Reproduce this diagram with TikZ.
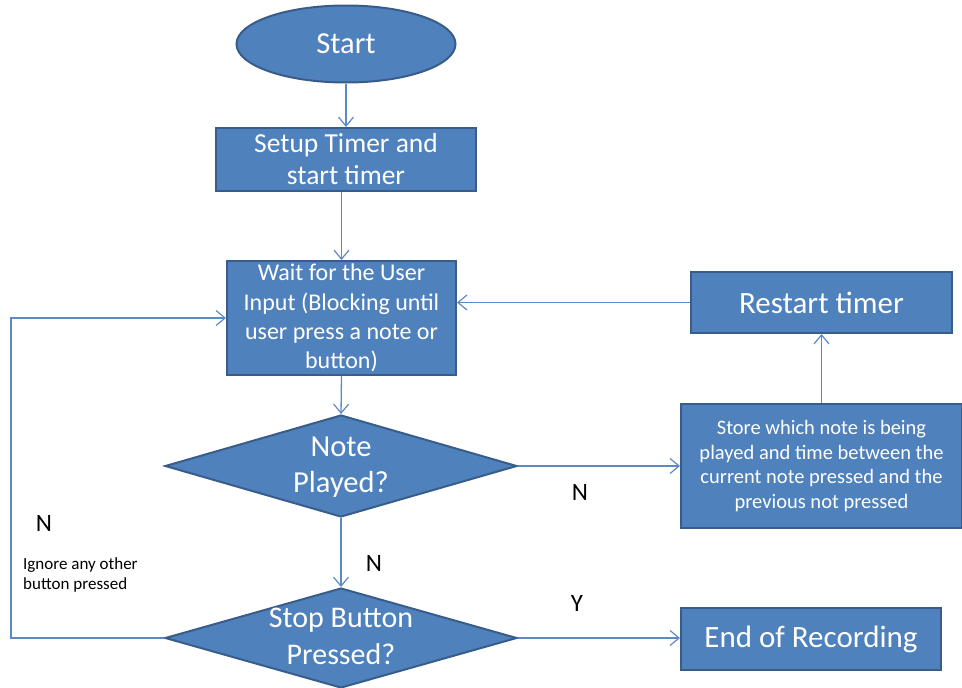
\documentclass[tikz,border=0pt]{standalone}
\usepackage{fontspec}
\setmainfont{Carlito}
\usetikzlibrary{shapes.geometric,arrows.meta}
\definecolor{boxfill}{HTML}{4F81BD}
\definecolor{boxline}{HTML}{385D8A}
\definecolor{linkcol}{HTML}{5B8AC6}
\newcommand{\dtext}[1]{\makebox[0pt]{\smash{\raisebox{-0.5ex}{\begin{tabular}{@{}c@{}}#1\end{tabular}}}}}
\tikzset{
  blk/.style={draw=boxline, line width=2pt, fill=boxfill, text=white, align=center, inner sep=0pt},
  procbox/.style={blk, rectangle},
  termbox/.style={blk, ellipse},
  decbox/.style={blk, diamond},
  link/.style={draw=linkcol, line width=1.3pt, -{Straight Barb[length=9pt,width=15pt,line width=1.2pt]}},
  tag/.style={text=black, inner sep=0pt, font=\fontsize{25}{30}\selectfont},
}
\begin{document}
\begin{tikzpicture}[x=1pt,y=-1pt]
\useasboundingbox (0,0) rectangle (962,688);

\node[termbox, minimum width=219pt, minimum height=77pt, font=\fontsize{30.5}{36}\selectfont]
  (start) at (346,44) {Start};
\node[procbox, minimum width=260pt, minimum height=63pt, font=\fontsize{27.5}{32}\selectfont]
  (setup) at (346,159.5) {Setup Timer and\\start timer};
\node[procbox, minimum width=229pt, minimum height=114pt, font=\fontsize{24}{29.3}\selectfont]
  (wait) at (341.5,318) {Wait for the User\\Input (Blocking until\\user press a note or\\button)};
\node[decbox, minimum width=352pt, minimum height=102pt, font=\fontsize{30.5}{36}\selectfont]
  (note) at (341,466) {\dtext{Note\\Played?}};
\node[decbox, minimum width=352pt, minimum height=100pt, font=\fontsize{30}{37}\selectfont]
  (stop) at (341,638) {\dtext{Stop Button\\Pressed?}};
\node[procbox, minimum width=261pt, minimum height=61pt, font=\fontsize{31}{36}\selectfont]
  (restart) at (821.5,302.5) {Restart timer};
\node[procbox, minimum width=281pt, minimum height=124pt, font=\fontsize{20.5}{24.7}\selectfont]
  (store) at (821.5,466) {Store which note is being\\played and time between the\\current note pressed and the\\previous not pressed};
\node[procbox, minimum width=260pt, minimum height=62pt, font=\fontsize{31}{36}\selectfont]
  (finish) at (811,639) {End of Recording};

% corners of the return path on the left
\coordinate (loopB) at (11,638);
\coordinate (loopT) at (11,318);

\draw[link] (start.south) -- (setup.north);
\draw[link] (wait.north |- setup.south) -- (wait.north);
\draw[link] (wait.south) -- (note.north);
\draw[link] (note.south) -- (stop.north);
\draw[link] (note.east) -- (note.east -| store.west);
\draw[link] (store.north) -- (restart.south);
\draw[link] (restart.west) -- (restart.west -| wait.east);
\draw[link] (stop.west) -- (loopB) -- (loopT) -- (wait.west);
\draw[link] (stop.east) -- (stop.east -| finish.west);

\node[tag] (nA) at (374,563) {N};
\node[tag] (nB) at (580,492) {N};
\node[tag] (nC) at (44,523) {N};
\node[tag] (yA) at (577,603) {Y};
\node[text=black, inner sep=0pt, align=left, anchor=west, font=\fontsize{17}{20.5}\selectfont]
  (ignore) at (23,575) {Ignore any other\\button pressed};
\end{tikzpicture}
\end{document}
